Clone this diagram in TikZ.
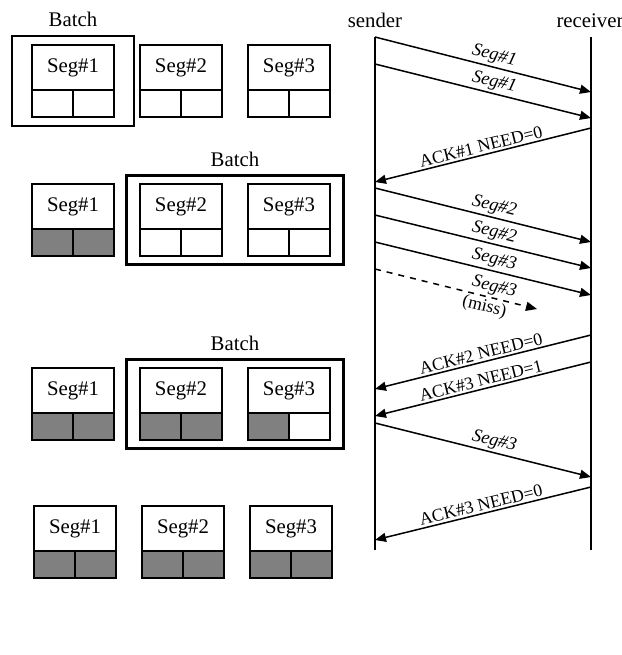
\documentclass[tikz,border=0pt]{standalone}
\usepackage{fontspec}
\setmainfont{Liberation Serif}
\usetikzlibrary{arrows.meta,fit}

\definecolor{cellgray}{RGB}{128,128,128}

% segment box: name, top-left corner, label, fill of the two cells
\newcommand{\segbox}[5]{%
  \node[segtop,anchor=north west] (#1) at (#2) {#3};
  \node[segcell,fill=#4,anchor=north west] (#1l) at (#1.south west) {};
  \node[segcell,fill=#5,anchor=north east] (#1r) at (#1.south east) {};
}

\begin{document}
\begin{tikzpicture}[x=0.5pt,y=-0.5pt,line width=1pt,
  txt/.style={font=\fontsize{10.4}{12}\selectfont},
  segtop/.style={txt,draw,minimum width=41pt,minimum height=22.5pt,inner sep=0pt,outer sep=0pt},
  segcell/.style={draw,minimum width=20.5pt,minimum height=13.5pt,inner sep=0pt,outer sep=0pt},
  batch/.style={draw,line width=1.3pt,inner sep=0pt},
  msg/.style={line width=0.75pt,-{Triangle[length=5.5pt,width=4.5pt]}},
  lbl/.style={font=\fontsize{8.9}{10}\selectfont,sloped,above,inner sep=1pt},
  seglbl/.style={lbl,font=\fontsize{9.2}{10}\selectfont\itshape}]
\useasboundingbox (0,0) rectangle (622,655);
% ---------- step 1: Seg#1 in batch ----------
\segbox{a1}{32,45}{Seg\#1}{white}{white}
\segbox{a2}{140,45}{Seg\#2}{white}{white}
\segbox{a3}{248,45}{Seg\#3}{white}{white}
\node[batch,fit=(a1)(a1l)(a1r),inner xsep=10pt,inner ysep=4.5pt] (ba) {};
\node[txt,above] (bat) at (ba.north) {Batch};
% ---------- step 2: Seg#2, Seg#3 in batch ----------
\segbox{b1}{32,184}{Seg\#1}{cellgray}{cellgray}
\segbox{b2}{140,184}{Seg\#2}{white}{white}
\segbox{b3}{248,184}{Seg\#3}{white}{white}
\node[batch,fit=(b2)(b2l)(b3r),inner xsep=6.75pt,inner ysep=4.25pt] (bb) {};
\node[txt,above] (bbt) at (bb.north) {Batch};
% ---------- step 3: Seg#3 half acked ----------
\segbox{c1}{32,368}{Seg\#1}{cellgray}{cellgray}
\segbox{c2}{140,368}{Seg\#2}{cellgray}{cellgray}
\segbox{c3}{248,368}{Seg\#3}{cellgray}{white}
\node[batch,fit=(c2)(c2l)(c3r),inner xsep=6.75pt,inner ysep=4.25pt] (bc) {};
\node[txt,above] (bct) at (bc.north) {Batch};
% ---------- step 4: all done ----------
\segbox{d1}{34,506}{Seg\#1}{cellgray}{cellgray}
\segbox{d2}{142,506}{Seg\#2}{cellgray}{cellgray}
\segbox{d3}{250,506}{Seg\#3}{cellgray}{cellgray}
% ---------- lifelines ----------
\node[txt,anchor=base] (snd) at (375,27) {sender};
\node[txt,anchor=base] (rcv) at (590,27) {receiver};
\coordinate (sTop) at (375,37);
\coordinate (sBot) at (375,550);
\coordinate (rTop) at (591,37);
\coordinate (rBot) at (591,550);
\draw (sTop) -- (sBot);
\draw (rTop) -- (rBot);
% sender side
\foreach \n/\y in {1/37,2/64,3/182,4/188,5/215,6/242,7/269,8/389,9/416,10/423,11/540}
  \coordinate (s\n) at (375,\y);
% receiver side
\foreach \n/\y in {1/92,2/118,3/128,4/242,5/268,6/295,8/335,9/362,10/477,11/487}
  \coordinate (r\n) at (591,\y);
\coordinate (lost) at (537,309);
% ---------- messages ----------
\draw[msg] (s1) -- node[seglbl,pos=.54] {Seg\#1} (r1);
\draw[msg] (s2) -- node[seglbl,pos=.54] {Seg\#1} (r2);
\draw[msg] (r3) -- node[lbl,pos=.5] {ACK\#1 NEED=0} (s3);
\draw[msg] (s4) -- node[seglbl,pos=.54] {Seg\#2} (r4);
\draw[msg] (s5) -- node[seglbl,pos=.54] {Seg\#2} (r5);
\draw[msg] (s6) -- node[seglbl,pos=.54] {Seg\#3} (r6);
\draw[msg,dashed] (s7) -- node[seglbl,pos=.72] {Seg\#3}
  node[lbl,below,pos=.69] {(miss)} (lost);
\draw[msg] (r8) -- node[lbl,pos=.5] {ACK\#2 NEED=0} (s8);
\draw[msg] (r9) -- node[lbl,pos=.5] {ACK\#3 NEED=1} (s9);
\draw[msg] (s10) -- node[seglbl,pos=.54] {Seg\#3} (r10);
\draw[msg] (r11) -- node[lbl,pos=.5] {ACK\#3 NEED=0} (s11);
\end{tikzpicture}
\end{document}
